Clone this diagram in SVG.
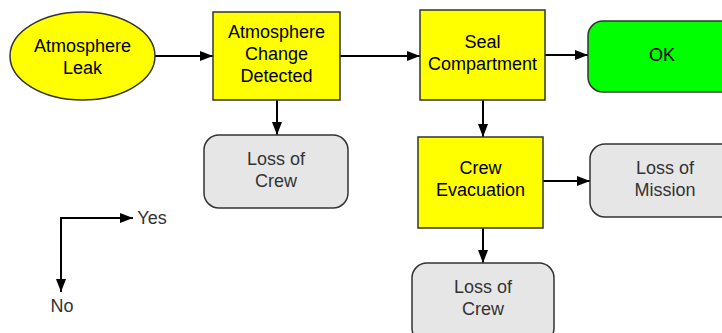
<svg xmlns="http://www.w3.org/2000/svg" width="722" height="333" viewBox="0 0 722 333">
<style>
text{font-family:"Liberation Sans",Arial,sans-serif;font-size:18px;text-anchor:middle}
.y{fill:#ffff00;stroke:#333;stroke-width:1.5}
.g{fill:#e6e6e6;stroke:#333;stroke-width:1.5}
.ok{fill:#00ff00;stroke:#333;stroke-width:1.5}
.dk{fill:#000}
.gt{fill:#333}
.c{stroke:#000;stroke-width:2;fill:none;marker-end:url(#ah)}
</style>
<defs>
<marker id="ah" viewBox="0 0 13 10" refX="13" refY="5" markerWidth="13" markerHeight="10" markerUnits="userSpaceOnUse" orient="auto">
<path d="M0,0L13,5L0,10z" fill="#000"/>
</marker>
</defs>
<rect width="722" height="333" fill="#fff"/>
<g id="connectors">
<line class="c" x1="155" y1="56" x2="213" y2="56"/>
<line class="c" x1="340" y1="56" x2="420" y2="56"/>
<line class="c" x1="545" y1="55" x2="588" y2="55"/>
<line class="c" x1="277" y1="100" x2="277" y2="135"/>
<line class="c" x1="483" y1="100" x2="483" y2="137"/>
<line class="c" x1="543" y1="181" x2="590" y2="181"/>
<line class="c" x1="483" y1="228" x2="483" y2="263"/>
</g>
<g id="leak">
<ellipse class="y" cx="82.5" cy="56" rx="72.5" ry="44"/>
<text class="dk" x="82.5" y="52">Atmosphere</text>
<text class="dk" x="82.5" y="74">Leak</text>
</g>
<g id="detected">
<rect class="y" x="213" y="12" width="127" height="88"/>
<text class="dk" x="276.5" y="38">Atmosphere</text>
<text class="dk" x="276.5" y="60">Change</text>
<text class="dk" x="276.5" y="82">Detected</text>
</g>
<g id="seal">
<rect class="y" x="420" y="10" width="125" height="90"/>
<text class="dk" x="482.5" y="48">Seal</text>
<text class="dk" x="482.5" y="70">Compartment</text>
</g>
<g id="ok">
<rect class="ok" x="588" y="21" width="148" height="71" rx="15"/>
<text class="dk" x="662" y="61">OK</text>
</g>
<g id="crew1">
<rect class="g" x="204" y="135" width="144" height="73" rx="15"/>
<text class="gt" x="276" y="165">Loss of</text>
<text class="gt" x="276" y="187">Crew</text>
</g>
<g id="evac">
<rect class="y" x="418" y="137" width="125" height="91"/>
<text class="dk" x="480.5" y="174">Crew</text>
<text class="dk" x="480.5" y="196">Evacuation</text>
</g>
<g id="mission">
<rect class="g" x="590" y="144" width="150" height="73" rx="15"/>
<text class="gt" x="665" y="174">Loss of</text>
<text class="gt" x="665" y="196">Mission</text>
</g>
<g id="crew2">
<rect class="g" x="412" y="263" width="142" height="80" rx="15"/>
<text class="gt" x="483" y="293">Loss of</text>
<text class="gt" x="483" y="315">Crew</text>
</g>
<g id="legend">
<line class="c" x1="61" y1="218" x2="133" y2="218"/>
<line class="c" x1="61" y1="217" x2="61" y2="292"/>
<text class="gt" x="152" y="224">Yes</text>
<text class="gt" x="62" y="312">No</text>
</g>
</svg>
